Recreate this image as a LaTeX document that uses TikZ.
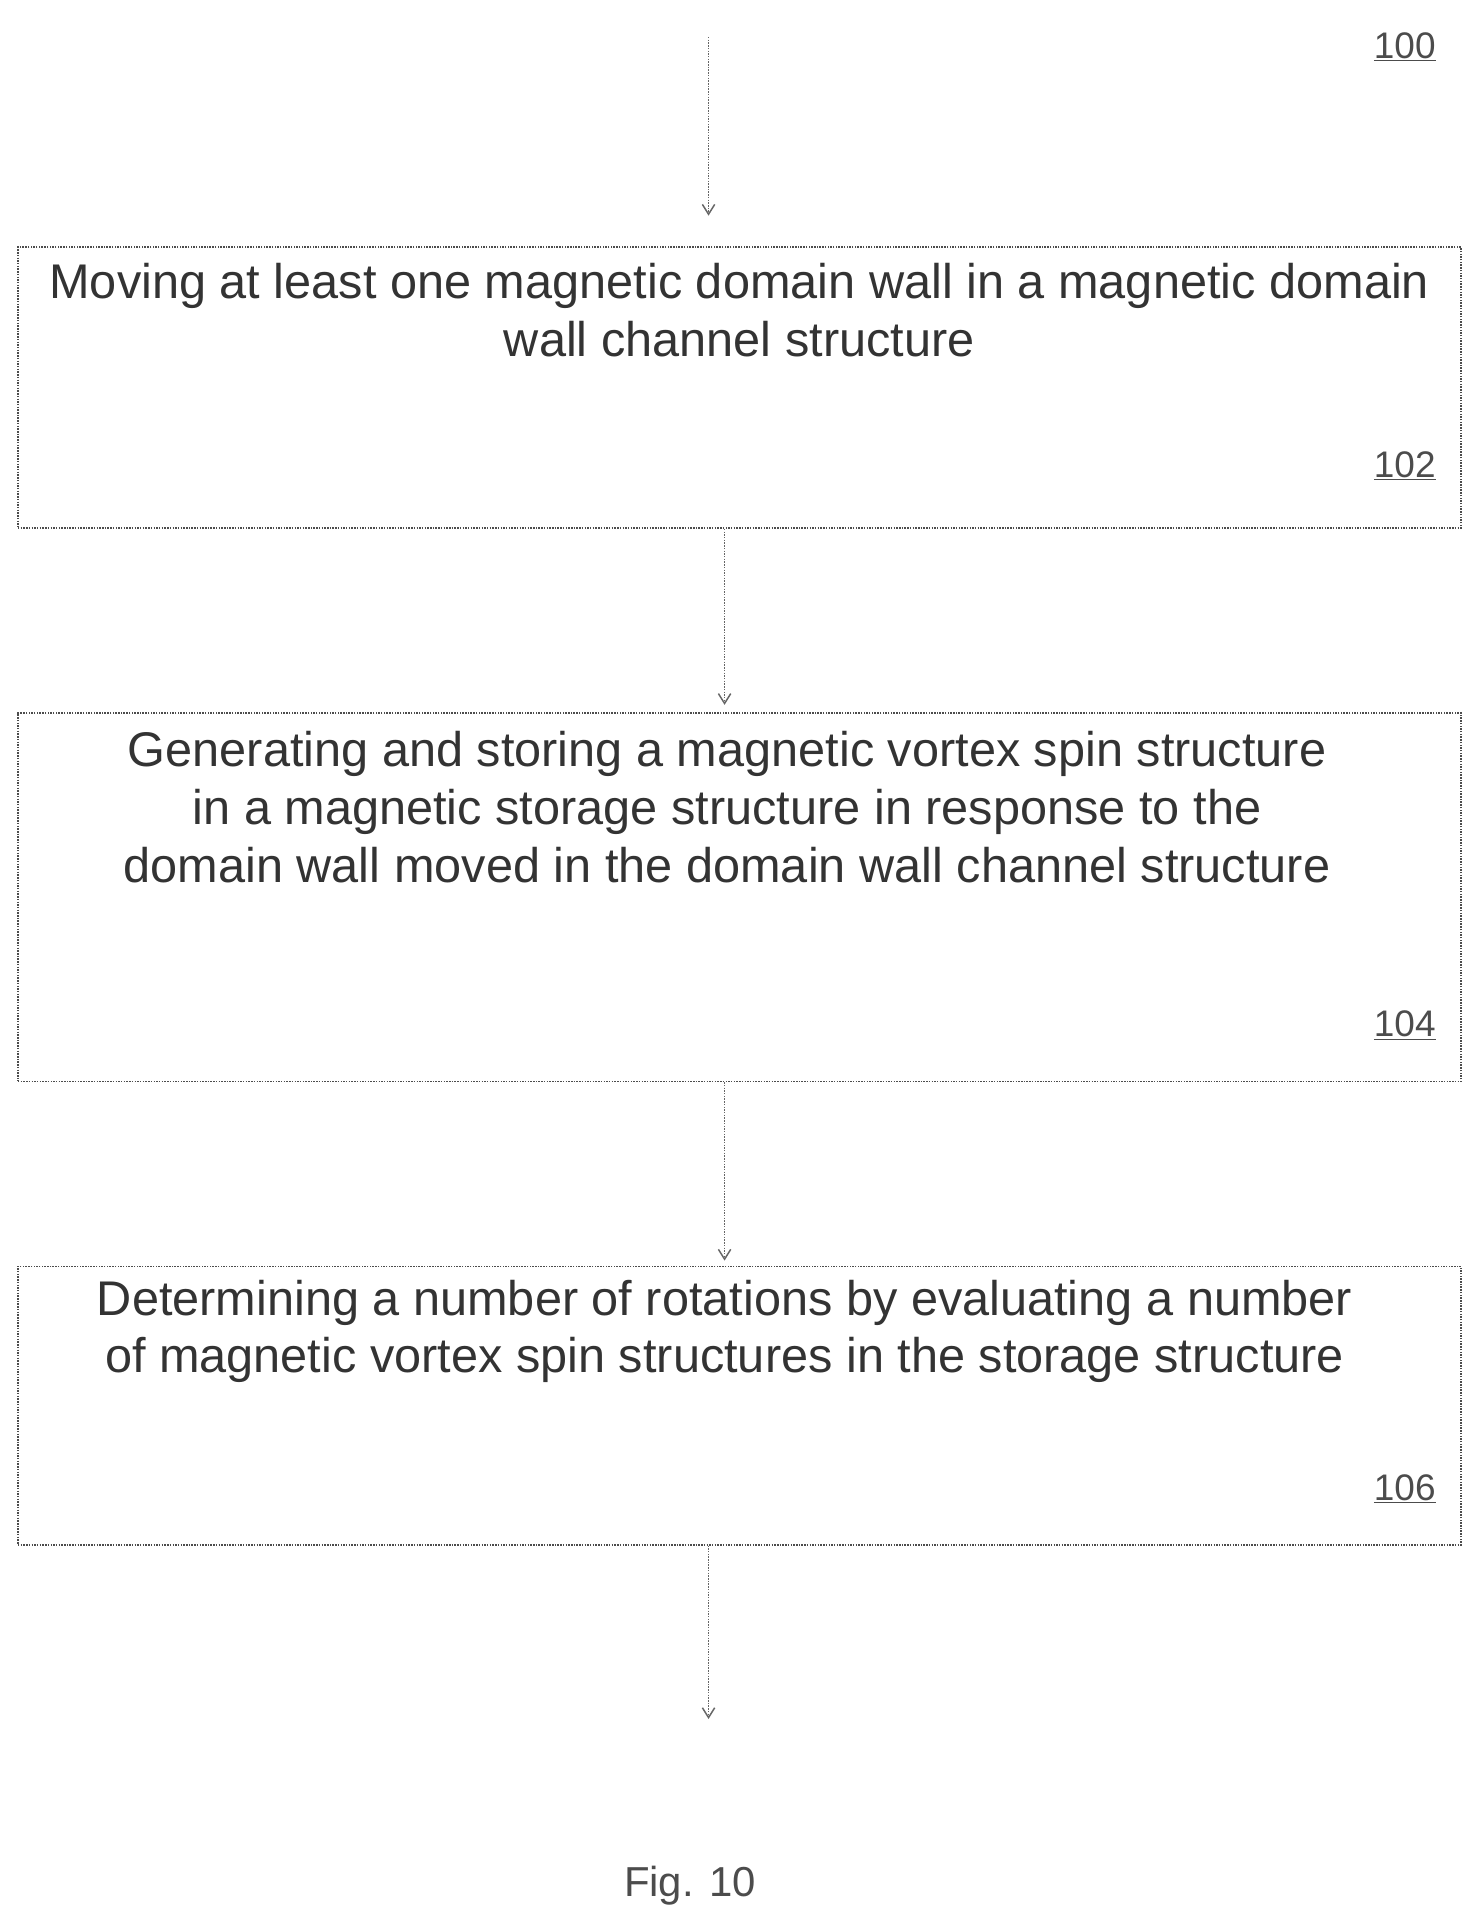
\documentclass[tikz,border=0pt]{standalone}
\usepackage{fontspec}
\setmainfont{Liberation Sans}
\usetikzlibrary{arrows.meta}
\tikzset{
  stepbox/.style={draw=black!70, densely dotted, line width=1.2pt, minimum width=1171pt, inner sep=0pt},
  main/.style={align=center, font=\fontsize{39.5}{47}\selectfont, text=black!80},
  ref/.style={font=\fontsize{30}{30}\selectfont, text=black!70},
  conn/.style={draw=black!60, densely dotted, line width=1.2pt, -{Straight Barb[length=8pt,width=10pt]}}
}
\begin{document}
\begin{tikzpicture}[x=1pt,y=-1pt]
\useasboundingbox (0,0) rectangle (1200,1563);
\node[stepbox, minimum height=228pt, anchor=north west] (b1) at (14,200) {};
\node[stepbox, minimum height=299pt, anchor=north west] (b2) at (14,578) {};
\node[stepbox, minimum height=226pt, anchor=north west] (b3) at (14,1027) {};
\node[main, anchor=north] (t1) at (600,210) {Moving at least one magnetic domain wall in a magnetic domain\\wall channel structure};
\node[main, anchor=north] (t2) at (590,590) {Generating and storing a magnetic vortex spin structure\\in a magnetic storage structure in response to the\\domain wall moved in the domain wall channel structure};
\node[main, anchor=north] (t3) at (588,1035) {Determining a number of rotations by evaluating a number\\of magnetic vortex spin structures in the storage structure};
\node[ref] (r100) at (1140,38) {\underline{100}};
\node[ref] (r102) at (1140,378) {\underline{102}};
\node[ref] (r104) at (1140,832) {\underline{104}};
\node[ref] (r106) at (1140,1208) {\underline{106}};
\node[ref, font=\fontsize{34}{34}\selectfont] (fig) at (560,1530) {Fig. 10};
\coordinate (s0) at (575,30);
\coordinate (e0) at (575,1395);
\draw[conn] (s0) -- (575,175);
\draw[conn] (b1.south -| 588,0) -- (588,572);
\draw[conn] (b2.south -| 588,0) -- (588,1023);
\draw[conn] (b3.south -| 575,0) -- (e0);
\end{tikzpicture}
\end{document}
